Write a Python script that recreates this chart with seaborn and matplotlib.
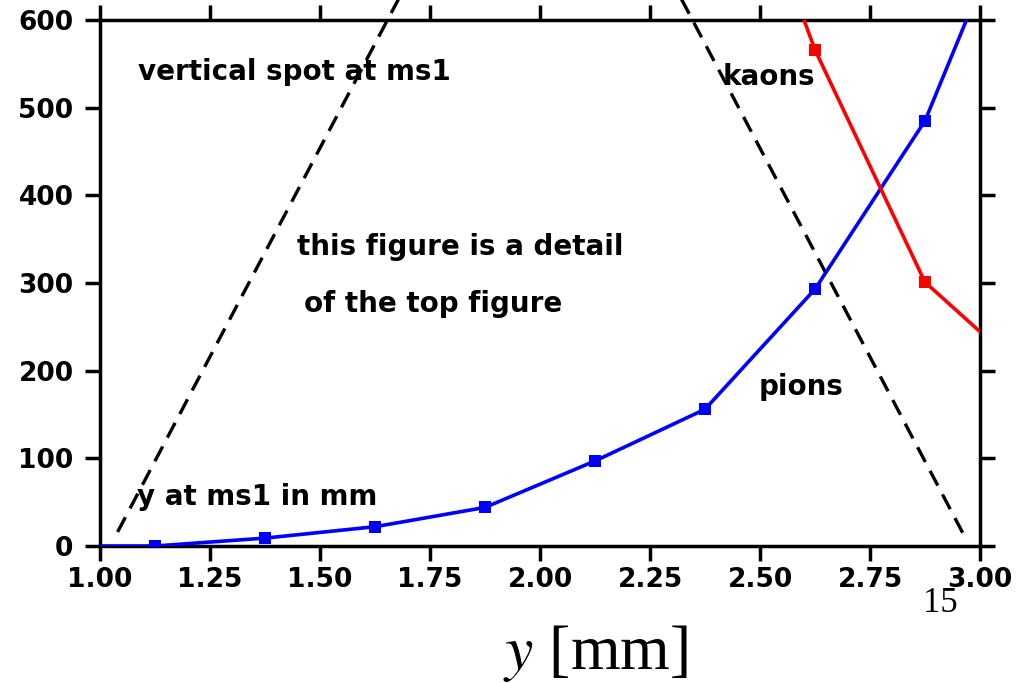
import matplotlib
matplotlib.use("Agg")
import matplotlib.pyplot as plt
import seaborn as sns
import pandas as pd

# ---- data ----
pion_x = [0.875, 1.125, 1.375, 1.625, 1.875, 2.125, 2.375, 2.625, 2.875, 3.125]
pion_y = [0, 0, 9, 22, 44, 97, 156, 293, 485, 790]
kaon_x = [2.375, 2.625, 2.875, 3.125]
kaon_y = [906, 566, 301, 188]
spot_x = [1.04, 2.0, 2.966]
spot_y = [16, 930, 10]
x_ticks = [1.00, 1.25, 1.50, 1.75, 2.00, 2.25, 2.50, 2.75, 3.00]
x_ticklabels = ["1.00", "1.25", "1.50", "1.75", "2.00", "2.25", "2.50", "2.75", "3.00"]
y_ticks = [0, 100, 200, 300, 400, 500, 600]
y_ticklabels = ["0", "100", "200", "300", "400", "500", "600"]

sns.set_style("ticks")
plt.rcParams["font.family"] = ["DejaVu Sans"]
plt.rcParams["mathtext.fontset"] = "stix"

fig = plt.figure(figsize=(10.31, 6.83), dpi=100)
ax = fig.add_axes([100 / 1031, 1 - 546 / 683, 880 / 1031, 526 / 683])

pions = pd.DataFrame({"x": pion_x, "y": pion_y})
kaons = pd.DataFrame({"x": kaon_x, "y": kaon_y})
spot = pd.DataFrame({"x": spot_x, "y": spot_y})

sns.lineplot(data=pions, x="x", y="y", ax=ax, color="#0000ff", lw=2.6,
             marker="s", markersize=8, markeredgewidth=0, sort=False, zorder=3)
sns.lineplot(data=kaons, x="x", y="y", ax=ax, color="#ff0000", lw=2.6,
             marker="s", markersize=8, markeredgewidth=0, sort=False, zorder=3)
sns.lineplot(data=spot, x="x", y="y", ax=ax, color="black", lw=2.4,
             sort=False, zorder=2)
spot_line = ax.lines[-1]
spot_line.set_dashes([5, 3])
spot_line.set_clip_on(False)

ax.set_xlim(1.0, 3.0)
ax.set_ylim(0, 600)
ax.set_xticks(x_ticks)
ax.set_xticklabels(x_ticklabels)
ax.set_yticks(y_ticks)
ax.set_yticklabels(y_ticklabels)
ax.set_xlabel("")
ax.set_ylabel("")

for s in ax.spines.values():
    s.set_visible(True)
    s.set_linewidth(2.5)
    s.set_color("black")
ax.tick_params(axis="both", which="major", direction="out", length=11, width=2.5,
               labelsize=19, top=True, right=True,
               labeltop=False, labelright=False, colors="black")
ax.tick_params(axis="x", pad=4)
ax.tick_params(axis="y", pad=8)
for lab in ax.get_xticklabels() + ax.get_yticklabels():
    lab.set_fontweight("bold")

tkw = dict(transform=ax.transAxes, ha="left", va="center", fontsize=20,
           fontweight="bold", color="black")
ax.text(0.043, 0.901, "vertical spot at ms1", **tkw)
ax.text(0.707, 0.892, "kaons", **tkw)
ax.text(0.224, 0.568, "this figure is a detail", **tkw)
ax.text(0.232, 0.460, "of the top figure", **tkw)
ax.text(0.748, 0.302, "pions", **tkw)
ax.text(0.042, 0.093, "y at ms1 in mm", **tkw)

fig.text(0.912, 0.116, "15", ha="center", va="center", fontsize=25,
         family="Liberation Serif", color="black")
fig.text(0.578, 0.043, r"$y$ [mm]", ha="center", va="center", fontsize=46,
         family="Liberation Serif", color="black")

fig.savefig("out.png", dpi=100)
